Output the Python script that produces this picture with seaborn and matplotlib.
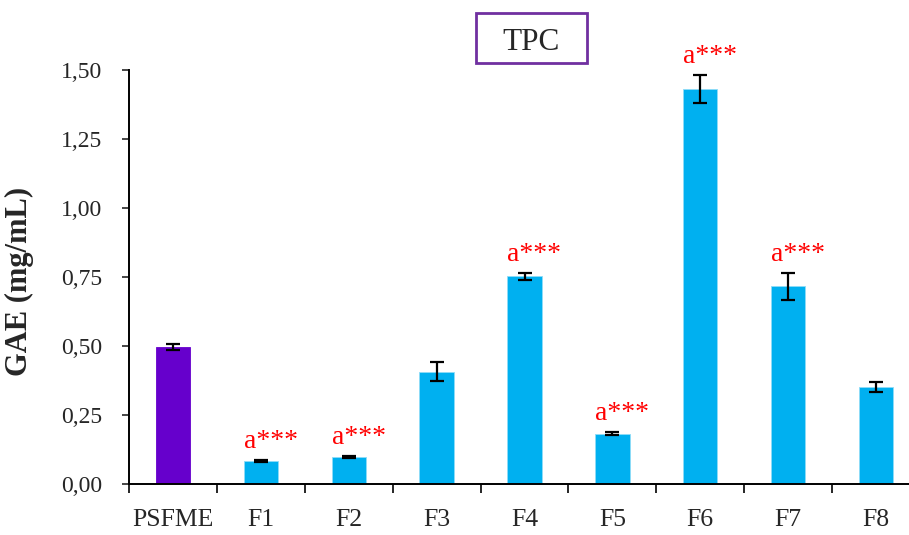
import matplotlib
matplotlib.use("Agg")
import matplotlib.pyplot as plt
import seaborn as sns
import numpy as np
import pandas as pd
from matplotlib.ticker import FixedLocator
from matplotlib.patches import Rectangle

categories = ["PSFME", "F1", "F2", "F3", "F4", "F5", "F6", "F7", "F8"]
values = [0.496, 0.083, 0.098, 0.407, 0.752, 0.182, 1.431, 0.716, 0.350]
errors = [0.010, 0.003, 0.004, 0.035, 0.013, 0.006, 0.050, 0.050, 0.018]
significance = ["", "a***", "a***", "", "a***", "a***", "a***", "a***", ""]
yticks = [0.0, 0.25, 0.5, 0.75, 1.0, 1.25, 1.5]
ytick_labels = ["0,00", "0,25", "0,50", "0,75", "1,00", "1,25", "1,50"]
colors = ["#6600CC"] + ["#00B0F0"] * 8

sns.set_style("white")
plt.rcParams["font.family"] = ["Liberation Serif", "DejaVu Serif"]

W, H = 909, 535
fig = plt.figure(figsize=(W / 100, H / 100), dpi=100)
left, right, bottom, top = 129, 920, 484, 70
ax = fig.add_axes([left / W, (H - bottom) / H, (right - left) / W, (bottom - top) / H])

df = pd.DataFrame({"cat": categories, "val": values})
sns.barplot(data=df, x="cat", y="val", hue="cat", palette=colors, legend=False,
            saturation=1, width=0.39, ax=ax, errorbar=None,
            edgecolor="#8fdcf8", linewidth=0.6)
ax.patches[0].set_edgecolor("#6600CC")

xpos = np.arange(len(categories))
ax.errorbar(xpos, values, yerr=errors, fmt="none", ecolor="black",
            elinewidth=1.6, capsize=4.8, capthick=1.6, zorder=5)

for i, (v, e, s) in enumerate(zip(values, errors, significance)):
    if s:
        ax.annotate(s, xy=(i, v + e), xytext=(10, 12), textcoords="offset pixels",
                    ha="center", va="baseline", fontsize=20, color="#FF0000")

ax.set_xlim(-0.5, len(categories) - 0.5)
ax.set_ylim(0, 1.5)
ax.set_yticks(yticks)
ax.set_yticklabels(ytick_labels)
ax.xaxis.set_minor_locator(FixedLocator(np.arange(-0.5, len(categories), 1.0)))
ax.tick_params(axis="x", which="major", length=0, pad=18, labelsize=18.5)
ax.tick_params(axis="x", which="minor", length=6.5, width=1.4, direction="out", bottom=True)
ax.tick_params(axis="y", which="major", length=5, width=1.2, direction="out", left=True,
               pad=14, labelsize=17)
ax.set_xlabel("")
ax.set_ylabel("GAE (mg/mL)", fontsize=22, fontweight="bold")
ax.yaxis.set_label_coords(-0.120, 0.49)

for sp in ["top", "right"]:
    ax.spines[sp].set_visible(False)
for sp in ["left", "bottom"]:
    ax.spines[sp].set_color("black")
    ax.spines[sp].set_linewidth(1.4)

# title box
bx0, bx1, by0, by1 = 476, 587, 13, 63
fig.patches.append(Rectangle((bx0 / W, 1 - by1 / H), (bx1 - bx0) / W, (by1 - by0) / H,
                             transform=fig.transFigure, facecolor="white",
                             edgecolor="#7030A0", linewidth=2, zorder=3))
fig.text((bx0 + bx1) / 2 / W, 1 - 42 / H, "TPC", ha="center", va="center",
         fontsize=22.5, zorder=4)

fig.savefig("out.png", dpi=100)
